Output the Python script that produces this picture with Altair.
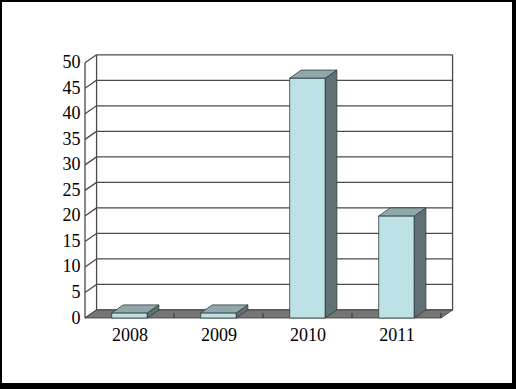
import json
import altair as alt
import pandas as pd

# ---- data ----
years = ["2008", "2009", "2010", "2011"]
counts = [1, 1, 47, 20]
y_ticks = [0, 5, 10, 15, 20, 25, 30, 35, 40, 45, 50]

# ---- 3-D geometry (in data units) ----
N = len(years)
DX = 0.13     # depth shift along x (category units)
DY = 1.57     # depth shift along y (value units)
B0, B1 = 0.3, 0.7   # bar start / end inside its category slot
YMAX = y_ticks[-1]

xs = alt.Scale(domain=[-0.9326, 4.7978], nice=False, zero=False)
ys = alt.Scale(domain=[-12.735, 61.912], nice=False, zero=False)

FONT = "Liberation Serif"
x_axis = alt.Axis(
    values=[i + 0.5 for i in range(N)],
    labelExpr=json.dumps(years) + "[floor(datum.value)]",
    domain=False, ticks=False, grid=False, title=None,
    offset=-65, labelPadding=8, labelAngle=0, labelOverlap=False, labelFlush=False,
    labelFont=FONT, labelFontSize=18, labelColor="black",
)
y_axis = alt.Axis(
    values=y_ticks, domain=False, ticks=False, grid=False, title=None,
    offset=-83, labelPadding=5, labelOverlap=False, labelFlush=False,
    labelFont=FONT, labelFontSize=18, labelColor="black",
)


def X(f="x"):
    return alt.X(f + ":Q", scale=xs, axis=x_axis, stack=False)


def Y(f="y"):
    return alt.Y(f + ":Q", scale=ys, axis=y_axis, stack=False)


# ---- line work: back-wall grid, depth ticks, frame ----
lines = []
for t in y_ticks:
    lines.append(dict(x=DX, x2=N + DX, y=t + DY, y2=t + DY))       # grid on back wall
    lines.append(dict(x=0, x2=DX, y=t, y2=t + DY))                  # depth tick
lines.append(dict(x=0, x2=0, y=0, y2=YMAX))                          # front axis
lines.append(dict(x=DX, x2=DX, y=DY, y2=YMAX + DY))                  # back-left edge
lines.append(dict(x=N + DX, x2=N + DX, y=DY, y2=YMAX + DY))          # back-right edge
lines_df = pd.DataFrame(lines)

rules = alt.Chart(lines_df).mark_rule(color="#4a4a4a", strokeWidth=1.3).encode(
    x=X(), x2="x2:Q", y=Y(), y2="y2:Q"
)

# ---- floor ----
floor_df = pd.DataFrame([
    dict(y=0, x=0, x2=N),
    dict(y=DY, x=DX, x2=N + DX),
])
floor = alt.Chart(floor_df).mark_area(
    orient="horizontal", color="#767676", stroke="#3a3a3a", strokeWidth=0.8
).encode(y=Y(), x=X(), x2="x2:Q")

floor_ticks_df = pd.DataFrame([dict(x=i, y=0, y2=1.0) for i in range(1, N + 1)])
floor_ticks = alt.Chart(floor_ticks_df).mark_rule(color="#333333", strokeWidth=1).encode(
    x=X(), y=Y(), y2="y2:Q"
)

# ---- bars ----
front_df = pd.DataFrame([
    dict(year=years[i], x=i + B0, x2=i + B1, y=0, y2=counts[i]) for i in range(N)
])
front = alt.Chart(front_df).mark_rect(
    color="#bde2e5", stroke="#2e3a3b", strokeWidth=0.8
).encode(x=X(), x2="x2:Q", y=Y(), y2="y2:Q")

side_rows, top_rows = [], []
for i in range(N):
    v = counts[i]
    side_rows.append(dict(year=years[i], x=i + B1, y=0, y2=v))
    side_rows.append(dict(year=years[i], x=i + B1 + DX, y=DY, y2=v + DY))
    top_rows.append(dict(year=years[i], y=v, x=i + B0, x2=i + B1))
    top_rows.append(dict(year=years[i], y=v + DY, x=i + B0 + DX, x2=i + B1 + DX))
side_df = pd.DataFrame(side_rows)
top_df = pd.DataFrame(top_rows)

side = alt.Chart(side_df).mark_area(
    color="#5f7172", stroke="#2e3a3b", strokeWidth=0.8
).encode(x=X(), y=Y(), y2="y2:Q", detail="year:N")

top = alt.Chart(top_df).mark_area(
    orient="horizontal", color="#90a8aa", stroke="#2e3a3b", strokeWidth=0.8
).encode(y=Y(), x=X(), x2="x2:Q", detail="year:N")

chart = alt.layer(rules, floor, floor_ticks, front, side, top).properties(
    width=510, height=381,
    autosize=alt.AutoSizeParams(type="none"),
    padding={"left": 2, "top": 2, "right": 4, "bottom": 6},
    background="black",
).configure_view(fill="white", strokeWidth=0)

chart.save("out.html", embed_options={"renderer": "svg", "actions": False})
